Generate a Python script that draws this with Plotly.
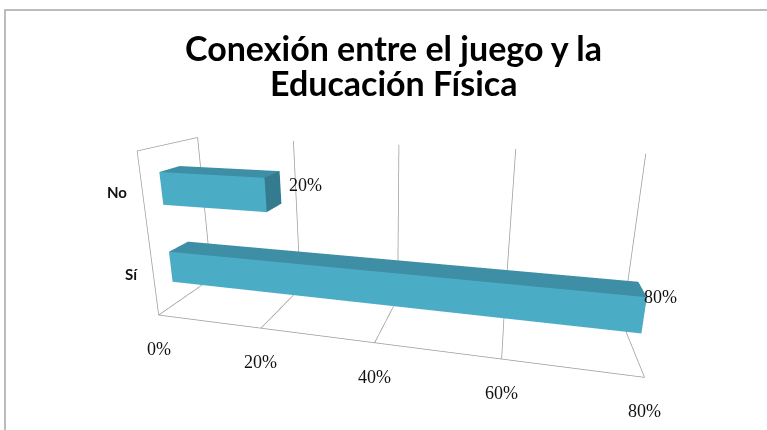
import plotly.graph_objects as go

# ---------------- data ----------------
categories = ["Sí", "No"]
values = [0.80, 0.20]
tick_values = [0.0, 0.2, 0.4, 0.6, 0.8]
tick_labels = ["0%", "20%", "40%", "60%", "80%"]
title_lines = ["Conexión entre el juego y la", "Educación Física"]

# ---------------- style ----------------
X_MAX = tick_values[-1]
DEPTH = 1.0
N_CAT = len(categories)
BAR_HALF = 0.2          # gap width 150 %
BAR_Y0, BAR_Y1 = 0.28, 0.62
GRID = "#9c9c9c"
C_FRONT = "#4bacc6"
C_TOP = "#3e8ea5"
C_END = "#347b90"

fig = go.Figure()


def add_segment(p, q):
    fig.add_trace(go.Scatter3d(
        x=[p[0], q[0]], y=[p[1], q[1]], z=[p[2], q[2]],
        mode="lines", line=dict(color=GRID, width=1.5),
        hoverinfo="skip", showlegend=False))


# back-wall and floor gridlines at each tick
for v in tick_values:
    add_segment((v, DEPTH, 0), (v, DEPTH, N_CAT))
    add_segment((v, 0, 0), (v, DEPTH, 0))
# floor front edge (value axis)
add_segment((0, 0, 0), (X_MAX, 0, 0))
# side wall edges
add_segment((0, 0, 0), (0, 0, N_CAT))
add_segment((0, 0, N_CAT), (0, DEPTH, N_CAT))

# bars as boxes
xs, ys, zs, ii, jj, kk, fc = [], [], [], [], [], [], []
faces = [
    ((0, 1, 5), C_FRONT), ((0, 5, 4), C_FRONT),   # front
    ((3, 7, 6), C_FRONT), ((3, 6, 2), C_FRONT),   # back
    ((0, 4, 7), C_FRONT), ((0, 7, 3), C_FRONT),   # left
    ((1, 2, 6), C_END), ((1, 6, 5), C_END),       # right end
    ((0, 3, 2), C_END), ((0, 2, 1), C_END),       # bottom
    ((4, 5, 6), C_TOP), ((4, 6, 7), C_TOP),       # top
]
for idx, (cat, val) in enumerate(zip(categories, values)):
    zc = idx + 0.5
    x0, x1 = 0.0, val
    z0, z1 = zc - BAR_HALF, zc + BAR_HALF
    base = len(xs)
    corners = [(x0, BAR_Y0, z0), (x1, BAR_Y0, z0), (x1, BAR_Y1, z0), (x0, BAR_Y1, z0),
               (x0, BAR_Y0, z1), (x1, BAR_Y0, z1), (x1, BAR_Y1, z1), (x0, BAR_Y1, z1)]
    for c in corners:
        xs.append(c[0]); ys.append(c[1]); zs.append(c[2])
    for (a, b, c), col in faces:
        ii.append(base + a); jj.append(base + b); kk.append(base + c); fc.append(col)

fig.add_trace(go.Mesh3d(
    x=xs, y=ys, z=zs, i=ii, j=jj, k=kk, facecolor=fc, flatshading=True,
    lighting=dict(ambient=1.0, diffuse=0.0, specular=0.0, roughness=1.0, fresnel=0.0),
    hoverinfo="skip", showscale=False))

# scene annotations (tick labels, category labels, data labels)
ann = []
for v, t in zip(tick_values, tick_labels):
    ann.append(dict(x=v, y=0, z=0, text=t, showarrow=False, xanchor="center",
                    yanchor="middle", yshift=-34,
                    font=dict(family="Liberation Serif", size=18, color="#111111")))
for idx, cat in enumerate(categories):
    ann.append(dict(x=0, y=0, z=idx + 0.5, text=cat, showarrow=False, xanchor="right",
                    yanchor="middle", xshift=-14, yshift=3,
                    font=dict(family="Lato", size=15, color="#111111", weight="bold")))
for idx, val in enumerate(values):
    ann.append(dict(x=val, y=BAR_Y1, z=idx + 0.5, text=f"{val:.0%}", showarrow=False,
                    xanchor="left", yanchor="middle", xshift=6, yshift=2,
                    font=dict(family="Liberation Serif", size=18, color="#111111")))

eps = 0.002
fig.update_layout(
    width=767, height=430,
    margin=dict(l=0, r=0, t=0, b=0),
    paper_bgcolor="white",
    showlegend=False,
    hovermode=False,
    scene=dict(
        domain=dict(x=[0, 1], y=[0, 1]),
        xaxis=dict(range=[-eps, X_MAX + eps], visible=False),
        yaxis=dict(range=[-eps, DEPTH + eps], visible=False),
        zaxis=dict(range=[-eps, N_CAT + eps], visible=False),
        aspectmode="manual",
        aspectratio=dict(x=2.8, y=0.6, z=1.03),
        camera=dict(
            eye=dict(x=0.678, y=-2.811, z=0.978),
            center=dict(x=-0.028, y=0.02, z=0.141),
            up=dict(x=0, y=0, z=1),
            projection=dict(type="perspective")),
        bgcolor="rgba(0,0,0,0)",
        annotations=ann,
    ),
    annotations=[
        dict(xref="paper", yref="paper", x=393 / 767, y=1 - 47 / 430, text=title_lines[0],
             showarrow=False, xanchor="center", yanchor="middle",
             font=dict(family="Lato", size=34, color="#000000", weight="bold")),
        dict(xref="paper", yref="paper", x=393 / 767, y=1 - 82 / 430, text=title_lines[1],
             showarrow=False, xanchor="center", yanchor="middle",
             font=dict(family="Lato", size=34, color="#000000", weight="bold")),
    ],
    shapes=[dict(type="rect", xref="paper", yref="paper", x0=5 / 767, x1=1.3,
                 y0=-0.3, y1=1 - 10 / 430, line=dict(color="#a6a6a6", width=1.5))],
)

fig.write_html("out.html")
